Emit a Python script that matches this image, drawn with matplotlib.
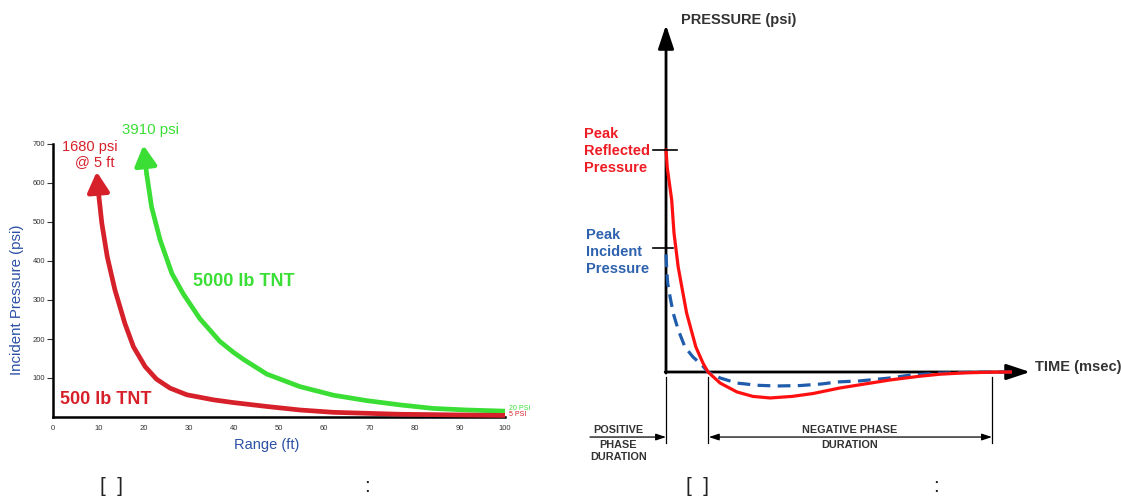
import matplotlib
matplotlib.use("Agg")
import matplotlib.pyplot as plt

plt.rcParams['font.family'] = ['Liberation Sans', 'DejaVu Sans']

# ---------------- Left chart data ----------------
range_ticks = [0, 10, 20, 30, 40, 50, 60, 70, 80, 90, 100]
pressure_ticks = [100, 200, 300, 400, 500, 600, 700]

tnt500_range = [9.67, 10.0, 10.8, 12.0, 13.7, 15.9, 17.8, 20.4, 22.9, 25.9, 29.6,
                35.5, 39.9, 47.3, 54.6, 62.0, 76.8, 100]
tnt500_psi = [629, 582, 497, 411, 326, 240, 180, 129, 97, 74, 57,
              44, 37, 27, 18, 12, 7, 4]

tnt5000_range = [20.0, 20.7, 21.8, 23.7, 26.3, 28.8, 32.5, 36.9, 39.9, 42.1, 47.3,
                 54.6, 62.0, 69.4, 76.8, 84.1, 91.5, 100]
tnt5000_psi = [697, 625, 539, 454, 368, 316, 252, 194, 166, 148, 110,
               78, 56, 42, 31, 22, 18, 15]

# ---------------- Right chart data ----------------
reflected_t = [0, 0.03, 0.135, 0.19, 0.29, 0.36, 0.49, 0.71, 0.88, 1.0, 1.29, 1.69,
               2.07, 2.48, 3.0, 3.5, 4.14, 4.8, 5.33, 6.0, 6.52, 7.1, 7.71, 8.2]
reflected_p = [1.0, 0.92, 0.775, 0.626, 0.473, 0.40, 0.266, 0.113, 0.04, 0.0, -0.05, -0.09,
               -0.11, -0.117, -0.110, -0.097, -0.072, -0.052, -0.036, -0.02, -0.01, -0.004, -0.001, 0.0]

incident_t = [0, 0.02, 0.04, 0.095, 0.17, 0.29, 0.45, 0.64, 0.86, 1.0, 1.29, 1.69,
              2.2, 2.64, 3.2, 3.7, 4.07, 4.62, 5.33, 5.81, 6.52, 7.4, 8.3]
incident_p = [0.53, 0.45, 0.40, 0.34, 0.266, 0.19, 0.113, 0.068, 0.03, 0.0, -0.027, -0.05,
              -0.06, -0.063, -0.061, -0.054, -0.045, -0.04, -0.027, -0.014, -0.005, -0.001, 0.0]

peak_reflected = 1.0
peak_incident = 0.559
positive_end = 1.0
negative_end = 7.76

RED_L = '#d6202a'
GREEN = '#3ade35'
RED_R = '#ff1010'
BLUE = '#1f5cab'

W, H = 1121, 500
fig = plt.figure(figsize=(W / 100, H / 100), dpi=100)
fig.patch.set_facecolor('white')

# ================= Left chart =================
ax = fig.add_axes([53 / W, 1 - 417 / H, (505 - 53) / W, (417 - 144) / H])
ax.set_xlim(0, 100)
ax.set_ylim(0, 700)
for s in ['top', 'right']:
    ax.spines[s].set_visible(False)
for s in ['left', 'bottom']:
    ax.spines[s].set_linewidth(1.8)
    ax.spines[s].set_color('black')
ax.set_xticks(range_ticks)
ax.set_yticks(pressure_ticks)
ax.tick_params(axis='y', direction='out', length=4, width=0.8, labelsize=5.5, pad=1.5, colors='#333333')
ax.tick_params(axis='x', direction='out', length=0, labelsize=5.5, pad=6, colors='#333333')

ax.plot(tnt5000_range[1:], tnt5000_psi[1:], color=GREEN, lw=3.4, solid_capstyle='butt',
        solid_joinstyle='round', clip_on=False, zorder=3)
ax.plot(tnt500_range[1:], tnt500_psi[1:], color=RED_L, lw=3.4, solid_capstyle='butt',
        solid_joinstyle='round', clip_on=False, zorder=4)
ax.annotate('', xy=(tnt5000_range[0], tnt5000_psi[0]), xytext=(tnt5000_range[1], tnt5000_psi[1]),
            arrowprops=dict(arrowstyle='-|>,head_length=0.55,head_width=0.3', color=GREEN, lw=3.4,
                            mutation_scale=22, shrinkA=0, shrinkB=0), annotation_clip=False, zorder=3)
ax.annotate('', xy=(tnt500_range[0], tnt500_psi[0]), xytext=(tnt500_range[1], tnt500_psi[1]),
            arrowprops=dict(arrowstyle='-|>,head_length=0.55,head_width=0.3', color=RED_L, lw=3.4,
                            mutation_scale=22, shrinkA=0, shrinkB=0), annotation_clip=False, zorder=4)

ax.text(21.5, 736, '3910 psi', color=GREEN, fontsize=10.8, ha='center', va='center', clip_on=False)
ax.text(8.2, 692, '1680 psi', color=RED_L, fontsize=10.5, ha='center', va='center', clip_on=False)
ax.text(9.3, 654, '@ 5 ft', color=RED_L, fontsize=10.5, ha='center', va='center', clip_on=False)
ax.text(42.3, 348, '5000 lb TNT', color=GREEN, fontsize=13, fontweight='bold', ha='center', va='center')
ax.text(11.6, 44, '500 lb TNT', color=RED_L, fontsize=13, fontweight='bold', ha='center', va='center')
ax.text(100.8, 22, '20 PSI', color=GREEN, fontsize=5, ha='left', va='center', clip_on=False)
ax.text(100.8, 7, '5 PSI', color=RED_L, fontsize=5, ha='left', va='center', clip_on=False)

fig.text(17 / W, 1 - 300 / H, 'Incident Pressure (psi)', rotation=90, color='#2b50a5',
         fontsize=10.8, ha='center', va='center')
fig.text(267 / W, 1 - 445 / H, 'Range (ft)', color='#2b50a5', fontsize=10.5, ha='center', va='center')

# ================= Right chart =================
ax2 = fig.add_axes([580 / W, 0, 541 / W, 1])
ax2.set_xlim(-2.048, 10.833)
ax2.set_ylim(-0.5766, 1.6757)
ax2.axis('off')

# axes with arrows
ax2.annotate('', xy=(0, 1.563), xytext=(0, -0.005),
             arrowprops=dict(arrowstyle='-|>,head_length=0.9,head_width=0.3', color='black', lw=2.0,
                             mutation_scale=16, shrinkA=0, shrinkB=0), zorder=1)
ax2.annotate('', xy=(8.667, 0), xytext=(-0.02, 0),
             arrowprops=dict(arrowstyle='-|>,head_length=0.9,head_width=0.3', color='black', lw=2.0,
                             mutation_scale=16, shrinkA=0, shrinkB=0), zorder=1)

ax2.plot(incident_t, incident_p, color=BLUE, lw=2.3, linestyle=(0, (4, 2.3)), zorder=2)
ax2.plot(reflected_t, reflected_p, color=RED_R, lw=2.3, solid_joinstyle='round', zorder=3)

# peak ticks
ax2.plot([-0.31, 0.26], [peak_reflected, peak_reflected], color='black', lw=1.2, zorder=4)
ax2.plot([-0.31, 0.17], [peak_incident, peak_incident], color='black', lw=1.2, zorder=4)

ax2.text(-1.952, 0.995, 'Peak\nReflected\nPressure', color='#ee1c24', fontsize=10.5, fontweight='bold',
         ha='left', va='center', linespacing=1.25)
ax2.text(-1.905, 0.54, 'Peak\nIncident\nPressure', color='#2e62ae', fontsize=10.5, fontweight='bold',
         ha='left', va='center', linespacing=1.25)
ax2.text(0.357, 1.586, 'PRESSURE (psi)', color='#333333', fontsize=10.5, fontweight='bold',
         ha='left', va='center')
ax2.text(8.786, 0.0225, 'TIME (msec)', color='#333333', fontsize=10.5, fontweight='bold',
         ha='left', va='center')

# duration markers
for tv in [0, positive_end, negative_end]:
    ax2.plot([tv, tv], [-0.0225, -0.32], color='black', lw=0.9)
ax2.annotate('', xy=(0, -0.293), xytext=(-1.81, -0.293),
             arrowprops=dict(arrowstyle='-|>,head_length=0.6,head_width=0.2', color='black', lw=0.9,
                             mutation_scale=10, shrinkA=0, shrinkB=0))
ax2.annotate('', xy=(negative_end, -0.293), xytext=(positive_end + 0.02, -0.293),
             arrowprops=dict(arrowstyle='<|-|>,head_length=0.6,head_width=0.2', color='black', lw=0.9,
                             mutation_scale=10, shrinkA=0, shrinkB=0))
ax2.text(-1.14, -0.283, 'POSITIVE', color='#333333', fontsize=7.8, fontweight='bold', ha='center', va='bottom')
ax2.text(-1.14, -0.331, 'PHASE', color='#333333', fontsize=7.8, fontweight='bold', ha='center', va='center')
ax2.text(-1.14, -0.385, 'DURATION', color='#333333', fontsize=7.8, fontweight='bold', ha='center', va='center')
ax2.text(4.38, -0.283, 'NEGATIVE PHASE', color='#333333', fontsize=7.8, fontweight='bold', ha='center', va='bottom')
ax2.text(4.38, -0.331, 'DURATION', color='#333333', fontsize=7.8, fontweight='bold', ha='center', va='center')

# captions
fig.text(111 / W, 1 - 487 / H, '[  ]', fontsize=15, ha='center', va='center', color='#222222')
fig.text(367 / W, 1 - 487 / H, ':', fontsize=15, ha='center', va='center', color='#222222')
fig.text(697 / W, 1 - 487 / H, '[  ]', fontsize=15, ha='center', va='center', color='#222222')
fig.text(936 / W, 1 - 487 / H, ':', fontsize=15, ha='center', va='center', color='#222222')

fig.savefig('out.png', dpi=100)
